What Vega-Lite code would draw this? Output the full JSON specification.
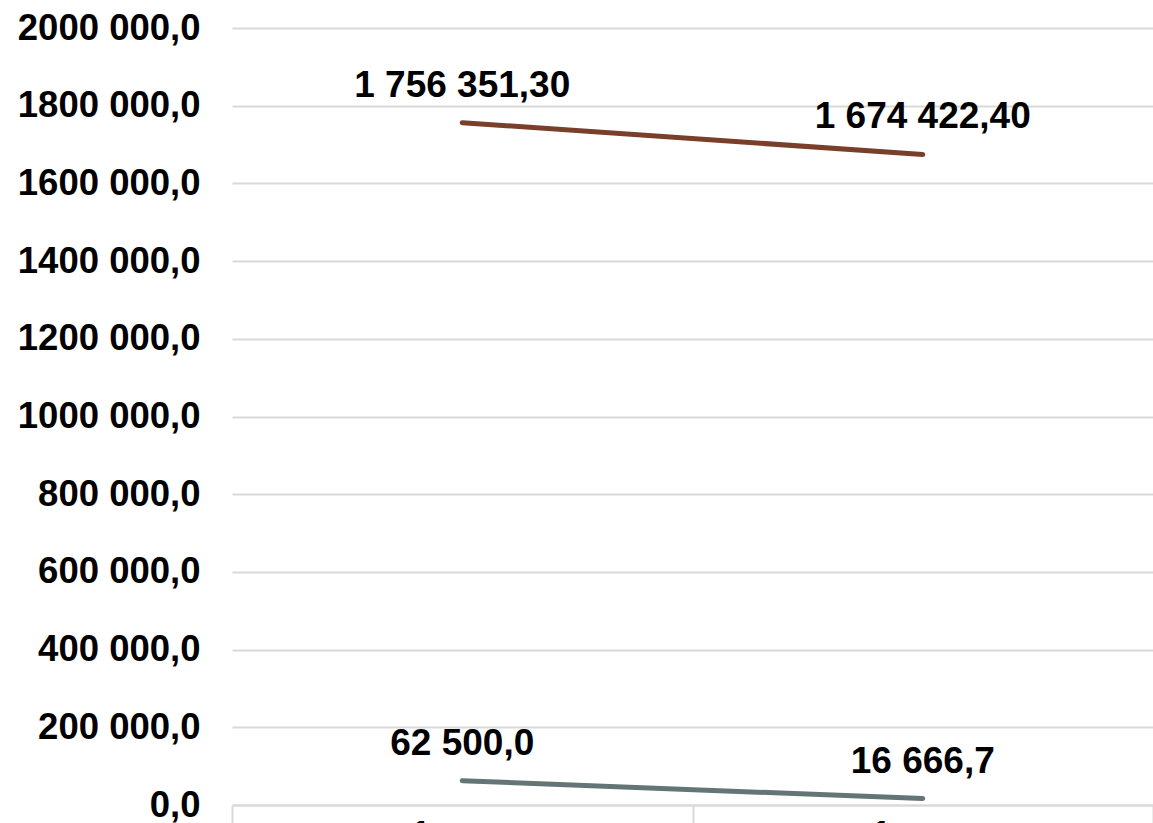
{
  "$schema": "https://vega.github.io/schema/vega-lite/v6.json",
  "width": 921,
  "height": 777,
  "autosize": {"type": "none"},
  "padding": {"left": 232, "top": 28, "right": 0, "bottom": 18},
  "background": "white",
  "config": {
    "view": {"stroke": null},
    "font": "Liberation Sans"
  },
  "data": {
    "values": [
      {"cat": "c1", "series": "s1", "value": 1756351.30, "label": "1 756 351,30"},
      {"cat": "c2", "series": "s1", "value": 1674422.40, "label": "1 674 422,40"},
      {"cat": "c1", "series": "s2", "value": 62500.0, "label": "62 500,0"},
      {"cat": "c2", "series": "s2", "value": 16666.7, "label": "16 666,7"}
    ]
  },
  "encoding": {
    "x": {
      "field": "cat",
      "type": "nominal",
      "scale": {"paddingInner": 0, "paddingOuter": 0},
      "axis": {
        "title": null,
        "labelExpr": "(datum.value == 'c1' || datum.value == 'c2') ? '1' : ''",
        "labelAngle": 0,
        "labelFont": "Liberation Sans",
        "labelFontSize": 36,
        "labelFontWeight": "bold",
        "labelColor": "#000000",
        "labelBaseline": "top",
        "labelAlign": "center",
        "labelOffset": -42,
        "labelPadding": -17,
        "labelLimit": 0,
        "domainColor": "#d9d9d9",
        "domainWidth": 2,
        "ticks": true,
        "tickBand": "extent",
        "tickSize": 30,
        "tickColor": "#d9d9d9",
        "tickWidth": 2,
        "grid": false
      }
    },
    "y": {
      "field": "value",
      "type": "quantitative",
      "scale": {"domain": [0, 2000000], "nice": false},
      "axis": {
        "title": null,
        "values": [0, 200000, 400000, 600000, 800000, 1000000, 1200000, 1400000, 1600000, 1800000, 2000000],
        "labelExpr": "datum.value == 0 ? '0,0' : (datum.value / 1000) + ' 000,0'",
        "labelFont": "Liberation Sans",
        "labelFontSize": 36.5,
        "labelFontWeight": "bold",
        "labelColor": "#000000",
        "labelPadding": 32,
        "labelLimit": 0,
        "ticks": false,
        "domain": false,
        "grid": true,
        "gridColor": "#d9d9d9",
        "gridWidth": 2
      }
    }
  },
  "layer": [
    {
      "mark": {"type": "line", "strokeWidth": 5, "strokeCap": "round"},
      "encoding": {
        "color": {
          "field": "series",
          "type": "nominal",
          "scale": {"domain": ["s1", "s2"], "range": ["#7a3f2b", "#647576"]},
          "legend": null
        }
      }
    },
    {
      "mark": {
        "type": "text",
        "font": "Liberation Sans",
        "fontSize": 37,
        "fontWeight": "bold",
        "color": "#000000",
        "align": "center",
        "baseline": "alphabetic",
        "dy": -26
      },
      "encoding": {
        "text": {"field": "label"}
      }
    }
  ]
}
